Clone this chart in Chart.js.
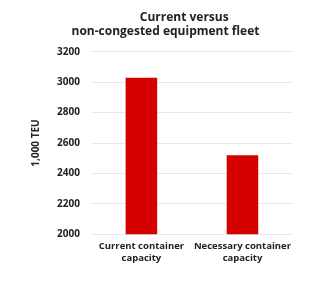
<!DOCTYPE html>
<html>
<head>
<meta charset="utf-8">
<script src="https://cdn.jsdelivr.net/npm/chart.js@4/dist/chart.umd.min.js"></script>
<style>
  html, body { margin: 0; padding: 0; background: #fff; }
  #wrap { width: 311px; height: 282px; }
</style>
</head>
<body>
<div id="wrap"><canvas id="chart"></canvas></div>
<script>
const categories = [["Current container", "capacity"], ["Necessary container", "capacity"]];
const values = [3030, 2520];
const yTicks = [2000, 2200, 2400, 2600, 2800, 3000, 3200];

Chart.defaults.font.family = "'Open Sans', sans-serif";
Chart.defaults.font.weight = "bold";
Chart.defaults.color = "#222";

// first title line sits a bit right of the second one in the original
const pad = "\u00A0".repeat(12);

// nudge the title block to the right, like the original
const shiftTitle = {
  id: "shiftTitle",
  afterLayout(chart) {
    if (chart.titleBlock) {
      chart.titleBlock.left += 6;
      chart.titleBlock.right += 6;
    }
  },
};

new Chart(document.getElementById("chart"), {
  type: "bar",
  data: {
    labels: categories,
    datasets: [{
      data: values,
      backgroundColor: "#d50000",
      categoryPercentage: 1,
      barPercentage: 0.312,
    }],
  },
  options: {
    responsive: true,
    maintainAspectRatio: false,
    animation: false,
    layout: { padding: { top: 4, right: 18, bottom: 12, left: 26 } },
    plugins: {
      legend: { display: false },
      tooltip: { enabled: false },
      title: {
        display: true,
        text: [pad + "Current versus", "non-congested equipment fleet"],
        font: { size: 12, weight: "bold" },
        color: "#222",
        padding: { top: 6, bottom: 13 },
        lineHeight: 1.2,
      },
    },
    scales: {
      x: {
        grid: { display: false, drawTicks: false },
        border: { display: false },
        ticks: { font: { size: 9.5, lineHeight: 1.25 }, color: "#222", maxRotation: 0, autoSkip: false, padding: 6 },
      },
      y: {
        min: yTicks[0],
        max: yTicks[yTicks.length - 1],
        afterBuildTicks: (axis) => { axis.ticks = yTicks.map(v => ({ value: v })); },
        grid: { color: "#e8e8e8", drawTicks: false },
        border: { display: false },
        ticks: { font: { size: 10 }, color: "#222", padding: 11, callback: (v) => String(v) },
        title: { display: true, text: "1,000 TEU", font: { size: 10, weight: "bold" }, color: "#222", padding: 4 },
      },
    },
  },
  plugins: [shiftTitle],
});
</script>
</body>
</html>
